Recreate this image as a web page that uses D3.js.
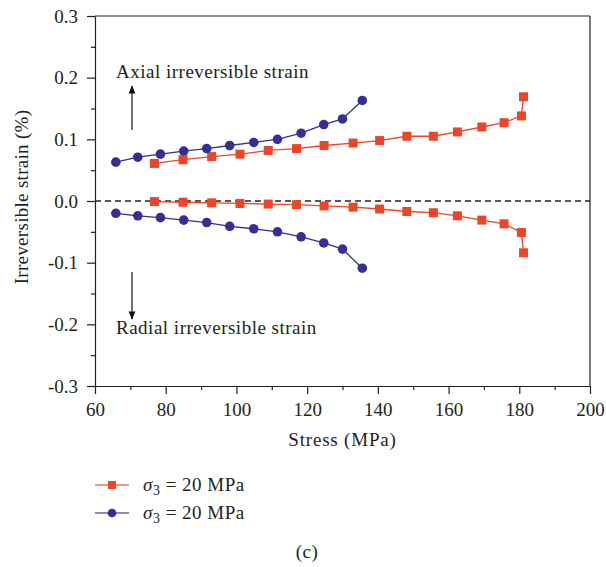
<!DOCTYPE html>
<html>
<head>
<meta charset="utf-8">
<script src="https://cdn.jsdelivr.net/npm/d3@7"></script>
<style>
  body { margin: 0; background: #fff; }
  text { font-family: "Liberation Serif", "DejaVu Serif", serif; fill: #231f20; }
  .lbl { font-size: 19px; letter-spacing: 0.5px; }
</style>
</head>
<body>
<div class="chart"></div>
<script>
// stress values (MPa) for each test
var redStress = [76.8, 84.9, 93.0, 101.0, 109.0, 117.0, 124.8, 133.0, 140.5, 148.2, 155.7, 162.5, 169.4, 175.7, 180.6, 181.2];
var redAxial = [0.061, 0.067, 0.072, 0.076, 0.082, 0.085, 0.090, 0.094, 0.098, 0.105, 0.105, 0.112, 0.120, 0.127, 0.138, 0.169];
var redRadial = [-0.001, -0.002, -0.003, -0.004, -0.005, -0.006, -0.008, -0.010, -0.013, -0.017, -0.019, -0.024, -0.031, -0.037, -0.051, -0.084];

var blueStress = [65.9, 72.1, 78.5, 85.1, 91.6, 98.1, 104.9, 111.6, 118.3, 124.7, 130.0, 135.6];
var blueAxial = [0.063, 0.071, 0.076, 0.081, 0.085, 0.090, 0.095, 0.100, 0.110, 0.124, 0.133, 0.163];
var blueRadial = [-0.020, -0.024, -0.027, -0.031, -0.035, -0.041, -0.045, -0.050, -0.058, -0.068, -0.078, -0.109];

var xTicks = [60, 80, 100, 120, 140, 160, 180, 200];
var yTicks = [-0.3, -0.2, -0.1, 0.0, 0.1, 0.2, 0.3];
var legendLabels = ['20 MPa', '20 MPa'];

var red = '#ee4427';
var blue = '#372e94';

var margin = { top: 16, right: 16, bottom: 181, left: 95 };
var width = 606 - margin.left - margin.right;
var height = 567 - margin.top - margin.bottom;

var root = d3.select('.chart')
    .append('svg')
    .attr('width', 606)
    .attr('height', 567);

var svg = root.append('g')
    .attr('transform', `translate(${margin.left}, ${margin.top})`);

var xScale = d3.scaleLinear().domain([60, 200]).range([0, width]);
var yScale = d3.scaleLinear().domain([-0.3, 0.3]).range([height, 0]);

// minor ticks
svg.append('g')
    .attr('transform', `translate(0, ${height})`)
    .call(d3.axisBottom(xScale).tickValues(d3.range(70, 200, 20)).tickSize(4).tickFormat(''))
    .call(g => g.select('.domain').remove());
svg.append('g')
    .call(d3.axisLeft(yScale).tickValues(d3.range(-0.25, 0.3, 0.1)).tickSize(4).tickFormat(''))
    .call(g => g.select('.domain').remove());

svg.append('g')
    .attr('transform', `translate(0, ${height})`)
    .call(d3.axisBottom(xScale).tickValues(xTicks).tickSizeInner(8).tickSizeOuter(0).tickPadding(9).tickFormat(d => String(d)));
svg.append('g')
    .call(d3.axisLeft(yScale).tickValues(yTicks).tickSizeInner(8).tickSizeOuter(0).tickPadding(9).tickFormat(d => d.toFixed(1)));

svg.selectAll('.tick text')
    .attr('font-family', null)
    .style('font-family', '"Liberation Serif", serif')
    .style('font-size', '19px')
    .attr('fill', '#231f20');
svg.selectAll('.domain, .tick line').attr('stroke', '#231f20').attr('stroke-width', 1.2);

// box top and right
svg.append('line').attr('x1', 0).attr('x2', width).attr('y1', 0).attr('y2', 0)
    .attr('stroke', '#231f20').attr('stroke-width', 1.2);
svg.append('line').attr('x1', width).attr('x2', width).attr('y1', 0).attr('y2', height)
    .attr('stroke', '#231f20').attr('stroke-width', 1.2);

// zero line
svg.append('line')
    .attr('x1', 0).attr('x2', width)
    .attr('y1', yScale(0)).attr('y2', yScale(0))
    .attr('stroke', '#222').attr('stroke-width', 1.3)
    .attr('stroke-dasharray', '6,4');

function drawSeries(xs, ys, color, shape) {
    var pts = xs.map((x, i) => ({ x: x, y: ys[i] }));
    var line = d3.line().x(d => xScale(d.x)).y(d => yScale(d.y));
    svg.append('path')
        .attr('d', line(pts))
        .attr('fill', 'none')
        .attr('stroke', color)
        .attr('stroke-width', 1.3);
    var sym = d3.symbol().type(shape === 'square' ? d3.symbolSquare : d3.symbolCircle)
        .size(shape === 'square' ? 81 : 72);
    svg.selectAll(null)
        .data(pts)
        .enter()
        .append('path')
        .attr('d', sym)
        .attr('transform', d => `translate(${xScale(d.x)}, ${yScale(d.y)})`)
        .attr('fill', color);
}

drawSeries(redStress, redAxial, red, 'square');
drawSeries(redStress, redRadial, red, 'square');
drawSeries(blueStress, blueAxial, blue, 'circle');
drawSeries(blueStress, blueRadial, blue, 'circle');

// annotations
root.append('defs').append('marker')
    .attr('id', 'arrow')
    .attr('viewBox', '0 0 10 10')
    .attr('refX', 9).attr('refY', 5)
    .attr('markerWidth', 7).attr('markerHeight', 9)
    .attr('orient', 'auto')
    .append('path')
    .attr('d', 'M0,1 L10,5 L0,9 Z')
    .attr('fill', '#111');

root.append('text').attr('class', 'lbl').attr('x', 116).attr('y', 78).text('Axial irreversible strain');
root.append('line').attr('x1', 132).attr('y1', 130).attr('x2', 132).attr('y2', 86)
    .attr('stroke', '#111').attr('stroke-width', 1.2).attr('marker-end', 'url(#arrow)');
root.append('text').attr('class', 'lbl').attr('x', 116).attr('y', 334).text('Radial irreversible strain');
root.append('line').attr('x1', 132).attr('y1', 272).attr('x2', 132).attr('y2', 319)
    .attr('stroke', '#111').attr('stroke-width', 1.2).attr('marker-end', 'url(#arrow)');

// axis titles
root.append('text')
    .attr('class', 'lbl')
    .attr('transform', `translate(28, ${margin.top + height / 2 - 4}) rotate(-90)`)
    .attr('text-anchor', 'middle')
    .style('letter-spacing', '0.3px')
    .text('Irreversible strain (%)');
root.append('text')
    .attr('class', 'lbl')
    .attr('x', margin.left + width / 2).attr('y', 446)
    .attr('text-anchor', 'middle')
    .style('letter-spacing', '0.8px')
    .text('Stress (MPa)');

// legend
var legend = root.append('g');
[[red, 'square'], [blue, 'circle']].forEach(function (item, i) {
    var y = 485 + i * 28;
    var lightColor = i === 0 ? '#f0705a' : '#6a62ae';
    legend.append('line').attr('x1', 95).attr('x2', 129).attr('y1', y).attr('y2', y)
        .attr('stroke', lightColor).attr('stroke-width', 1.5);
    legend.append('path')
        .attr('d', d3.symbol().type(item[1] === 'square' ? d3.symbolSquare : d3.symbolCircle).size(item[1] === 'square' ? 64 : 60))
        .attr('transform', `translate(112, ${y})`)
        .attr('fill', item[0]);
    var t = legend.append('text').attr('class', 'lbl').attr('x', 143).attr('y', y + 6);
    t.append('tspan').style('font-style', 'italic').text('σ');
    t.append('tspan').attr('dy', 4).style('font-size', '14px').text('3');
    t.append('tspan').attr('dy', -4).text(' = ' + legendLabels[i]);
});

root.append('text').attr('class', 'lbl').attr('x', 307).attr('y', 558).attr('text-anchor', 'middle')
    .text('(c)');
</script>
</body>
</html>
